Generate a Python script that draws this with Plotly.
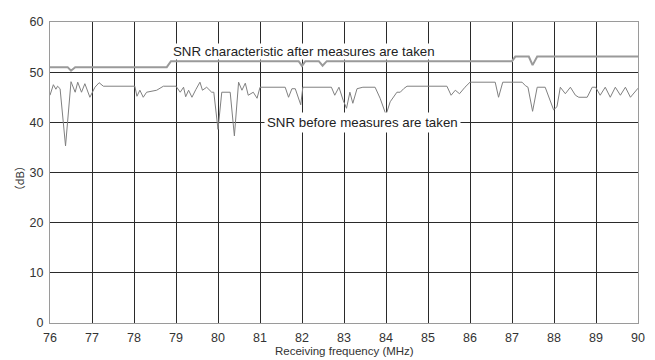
import plotly.graph_objects as go

# "SNR before measures are taken" (lower, jagged)
before_freq = [76.00, 76.08, 76.14, 76.18, 76.24, 76.37, 76.50, 76.60, 76.66, 76.75,
               76.83, 76.95, 77.07, 77.17, 77.27, 78.02, 78.07, 78.14, 78.22, 78.30,
               78.54, 78.70, 79.00, 79.10, 79.18, 79.23, 79.30, 79.38, 79.47, 79.57,
               79.63, 79.73, 79.85, 79.90, 80.00, 80.09, 80.29, 80.39, 80.49, 80.57,
               80.65, 80.72, 80.84, 80.93, 81.00, 81.60, 81.68, 81.76, 81.84, 81.92,
               81.97, 82.02, 82.70, 82.78, 82.88, 82.98, 83.06, 83.14, 83.21, 83.31,
               83.45, 83.74, 83.86, 84.00, 84.10, 84.26, 84.34, 84.42, 84.50, 85.45,
               85.55, 85.65, 85.75, 85.88, 86.00, 86.60, 86.68, 86.78, 87.24, 87.32,
               87.38, 87.49, 87.60, 87.79, 87.99, 88.07, 88.15, 88.27, 88.39, 88.51,
               88.59, 88.79, 88.91, 88.99, 89.10, 89.22, 89.34, 89.46, 89.58, 89.70,
               89.82, 90.00]
before_db = [45.4, 47.5, 46.6, 47.2, 46.7, 35.3, 48.1, 46.0, 48.0, 46.0,
             47.7, 45.0, 47.0, 47.9, 47.2, 47.2, 45.2, 46.4, 45.0, 46.0,
             46.4, 47.2, 47.2, 46.0, 47.0, 45.1, 46.4, 45.0, 46.5, 48.0,
             46.4, 47.0, 46.0, 46.0, 38.6, 46.0, 46.0, 37.3, 48.0, 46.4,
             47.8, 45.4, 46.0, 44.8, 47.0, 47.0, 45.0, 46.7, 46.7, 44.8,
             43.5, 47.0, 47.0, 45.4, 47.0, 44.4, 42.8, 46.0, 43.8, 46.7,
             47.0, 47.0, 44.8, 41.5, 44.1, 46.0, 46.0, 46.7, 47.2, 47.2,
             45.4, 46.4, 45.7, 47.0, 48.0, 48.0, 45.0, 48.0, 48.0, 47.3,
             47.0, 42.2, 47.0, 47.0, 42.5, 43.1, 47.0, 45.7, 47.0, 45.4,
             45.0, 45.0, 47.0, 47.0, 45.4, 47.0, 45.0, 47.0, 45.4, 47.0,
             45.0, 46.8]

# "SNR characteristic after measures are taken" (upper, smooth)
after_freq = [76.00, 76.42, 76.50, 76.60, 78.78, 78.88, 81.92, 82.00, 82.08, 82.40,
              82.49, 82.59, 87.00, 87.08, 87.40, 87.49, 87.60, 90.00]
after_db = [51.0, 51.0, 50.3, 51.0, 51.0, 52.2, 52.2, 51.25, 52.2, 52.2,
            51.3, 52.2, 52.2, 53.1, 53.1, 51.4, 53.1, 53.1]

x_ticks = list(range(76, 91))
y_ticks = list(range(0, 61, 10))

label_after = "SNR characteristic after measures are taken"
label_before = "SNR before measures are taken"
x_title = "Receiving frequency (MHz)"
y_title = "（dB）"

FONT = "Liberation Sans, Arial, sans-serif"

fig = go.Figure()
fig.add_trace(go.Scatter(x=before_freq, y=before_db, mode="lines",
                         line=dict(color="#808080", width=1), showlegend=False))
fig.add_trace(go.Scatter(x=after_freq, y=after_db, mode="lines",
                         line=dict(color="#9a9a9a", width=2), showlegend=False))

# page body adds an 8px offset; figure is sized to fill the rest of the window
fig.update_layout(
    width=647, height=352,
    margin=dict(l=42, r=17, t=7, b=37),
    paper_bgcolor="white", plot_bgcolor="white",
    font=dict(family=FONT, size=12, color="#333333"),
    showlegend=False,
)
fig.update_xaxes(range=[76, 90], tickvals=x_ticks, ticktext=[str(v) for v in x_ticks],
                 showgrid=True, gridcolor="#2a2a2a", gridwidth=1, zeroline=False,
                 showline=True, linecolor="#9a9a9a", linewidth=1, mirror=True,
                 ticks="", ticklabelstandoff=3, tickfont=dict(size=12.5, color="#333333"))
fig.update_yaxes(range=[0, 60], tickvals=y_ticks, ticktext=[str(v) for v in y_ticks],
                 showgrid=True, gridcolor="#2a2a2a", gridwidth=1, zeroline=False,
                 showline=True, linecolor="#9a9a9a", linewidth=1, mirror=True,
                 ticks="", ticklabelstandoff=3, tickfont=dict(size=12.5, color="#333333"))

fig.add_annotation(x=82.04, y=54.15, xref="x", yref="y", text=label_after,
                   showarrow=False, bgcolor="white", borderpad=0,
                   font=dict(size=13.3, color="#222222"))
fig.add_annotation(x=83.43, y=40.0, xref="x", yref="y", text=label_before,
                   showarrow=False, bgcolor="white", borderpad=2,
                   font=dict(size=13.3, color="#222222"))
fig.add_annotation(x=0.5, y=-0.094, xref="paper", yref="paper", text=x_title,
                   showarrow=False, yanchor="middle",
                   font=dict(size=11.5, color="#333333"))
fig.add_annotation(x=-0.053, y=0.48, xref="paper", yref="paper", text=y_title,
                   showarrow=False, textangle=-90, xanchor="center", borderpad=0,
                   font=dict(family="Noto Sans CJK JP", size=11, color="#333333"))

fig.write_html("out.html")
